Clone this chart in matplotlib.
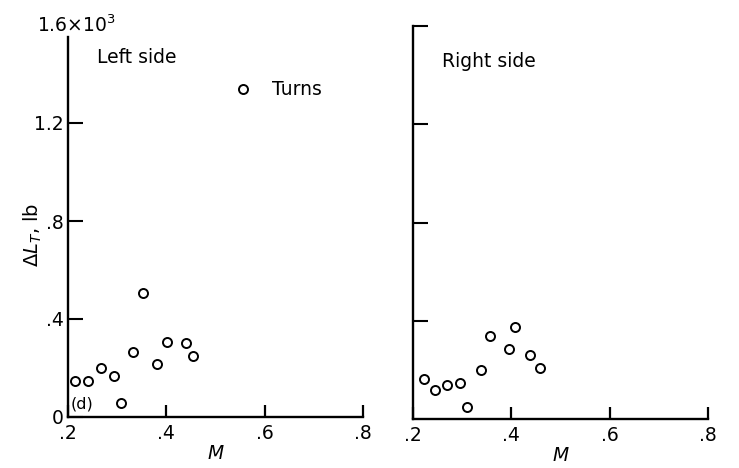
import matplotlib
matplotlib.use("Agg")
import matplotlib.pyplot as plt

plt.rcParams['font.family'] = ['DejaVu Sans']
plt.rcParams['mathtext.fontset'] = 'dejavusans'

# Left side data (M, delta L_T in thousands of lb)
left_M = [0.214, 0.241, 0.267, 0.293, 0.307, 0.332, 0.352, 0.380, 0.401, 0.439, 0.454]
left_dL = [0.147, 0.147, 0.201, 0.167, 0.058, 0.265, 0.507, 0.215, 0.305, 0.301, 0.248]

# Right side data
right_M = [0.222, 0.244, 0.270, 0.295, 0.310, 0.338, 0.356, 0.395, 0.408, 0.438, 0.459]
right_dL = [0.164, 0.120, 0.137, 0.145, 0.049, 0.199, 0.338, 0.285, 0.374, 0.260, 0.207]

x_ticks = [0.2, 0.4, 0.6, 0.8]
x_labels = ['.2', '.4', '.6', '.8']
y_ticks = [0.0, 0.4, 0.8, 1.2]
y_labels = ['0', '.4', '.8', '1.2']

FS = 13.5
W, H = 739, 468
fig = plt.figure(figsize=(W / 100, H / 100), dpi=100)

def px_axes(l, r, t, b):
    return fig.add_axes([l / W, 1 - b / H, (r - l) / W, (b - t) / H])

axL = px_axes(68, 363, 25, 417)
axR = px_axes(413, 708, 26, 419)

for ax in (axL, axR):
    ax.set_xlim(0.2, 0.8)
    ax.set_ylim(0, 1.6)
    ax.spines['top'].set_visible(False)
    ax.spines['right'].set_visible(False)
    for s in ('left', 'bottom'):
        ax.spines[s].set_linewidth(1.7)
    ax.spines['bottom'].set_bounds(0.2, 0.8)
    ax.set_xticks(x_ticks)
    ax.set_xticklabels(x_labels, fontsize=FS)
    ax.tick_params(axis='x', direction='in', length=9, width=1.6, pad=5)
    ax.tick_params(axis='y', direction='in', length=11, width=1.5, pad=3)
    ax.set_xlabel('$M$', fontsize=FS, labelpad=1)
    ax.patch.set_visible(False)

# Left panel
axL.spines['left'].set_bounds(0, 1.55)
axL.set_yticks(y_ticks)
axL.set_yticklabels(y_labels, fontsize=FS)
axL.plot(left_M, left_dL, linestyle='none', marker='o', markersize=6.5,
         markerfacecolor='white', markeredgecolor='black', markeredgewidth=1.4,
         clip_on=False)
axL.text(0.03, 1.0, r'1.6$\times$10$^3$', transform=axL.transAxes,
         ha='center', va='center', fontsize=FS)
axL.text(0.098, 0.917, 'Left side', transform=axL.transAxes,
         ha='left', va='center', fontsize=FS)
axL.plot([0.593], [0.838], transform=axL.transAxes, linestyle='none', marker='o',
         markersize=6.5, markerfacecolor='white', markeredgecolor='black',
         markeredgewidth=1.4)
axL.text(0.692, 0.836, 'Turns', transform=axL.transAxes,
         ha='left', va='center', fontsize=FS)
axL.text(0.008, 0.033, '(d)', transform=axL.transAxes,
         ha='left', va='center', fontsize=11.5)

# Right panel
axR.set_yticks([0.4, 0.8, 1.2, 1.6])
axR.set_yticklabels([])
axR.plot(right_M, right_dL, linestyle='none', marker='o', markersize=6.5,
         markerfacecolor='white', markeredgecolor='black', markeredgewidth=1.4,
         clip_on=False)
axR.text(0.098, 0.91, 'Right side', transform=axR.transAxes,
         ha='left', va='center', fontsize=FS)

fig.text(33 / W, 1 - 235 / H, r'$\Delta L_T$, lb', rotation=90,
         ha='center', va='center', fontsize=14)

fig.savefig('out.png', dpi=100)
